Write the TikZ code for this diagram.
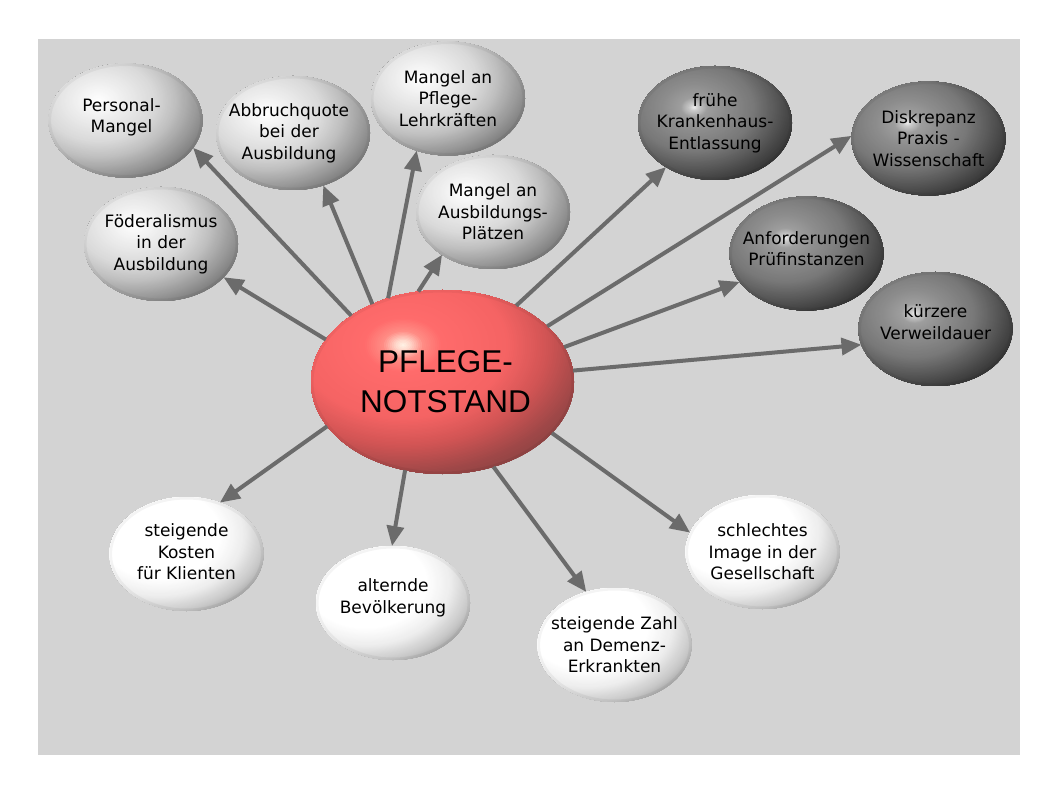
\documentclass[tikz,border=0pt]{standalone}
\usepackage{fontspec}
\setmainfont{DejaVu Sans}
\newfontfamily\centralfont{Liberation Sans}
\usetikzlibrary{arrows.meta,shapes.geometric}

\definecolor{bggray}{RGB}{211,211,211}
\definecolor{arrowgray}{RGB}{107,107,107}

% colour functions of the normalised distance from the highlight
\newcommand\setgrayball[1]{\pgfmathsetmacro\myR{1-0.2*#1-0.008*max(#1-0.5,0)-0.177*max(#1-0.74,0)-0.128*max(#1-1,0)-0.032*max(#1-1.39,0)}\let\myG\myR\let\myB\myR}
\newcommand\setdarkball[1]{\pgfmathsetmacro\myR{0.95-2.5*#1+1.0*max(#1-0.06,0)+1.2*max(#1-0.18,0)+0.075*max(#1-0.38,0)-0.2*max(#1-0.78,0)}\let\myG\myR\let\myB\myR}
\newcommand\setwhiteball[1]{\pgfmathsetmacro\myR{1-0.233*max(#1-0.8,0)-0.284*max(#1-1.1,0)-0.39*max(#1-1.39,0)}\let\myG\myR\let\myB\myR}
\newcommand\setredball[1]{%
  \pgfmathsetmacro\myR{1-0.08*max(#1-0.3,0)-0.387*max(#1-0.8,0)-0.2*max(#1-1.1,0)+0.267*max(#1-1.4,0)}%
  \pgfmathsetmacro\myG{0.97-2*#1-1*max(#1-0.06,0)+2.071*max(#1-0.16,0)+0.869*max(#1-0.3,0)-0.14*max(#1-0.8,0)+0.033*max(#1-1.1,0)+0.067*max(#1-1.4,0)}%
  \pgfmathsetmacro\myB{0.92-2*#1-0.8*max(#1-0.06,0)+2.086*max(#1-0.16,0)+0.654*max(#1-0.3,0)-0.14*max(#1-0.8,0)+0.033*max(#1-1.1,0)+0.067*max(#1-1.4,0)}}

% #1 colour setter, #2 rx, #3 ry, #4 hx, #5 hy, #6 max distance
\newcommand\ballpic[6]{%
  \foreach \i in {0,...,110}{%
    \pgfmathsetmacro\dd{max(#6*(1-\i/110),0.004)}%
    #1{\dd}%
    \definecolor{balltmp}{rgb}{\myR,\myG,\myB}%
    \fill[balltmp] ([xshift=#4*#2pt, yshift=#5*#3pt]path picture bounding box.center) ellipse [x radius=\dd*#2pt, y radius=\dd*#3pt];
  }%
  \draw[black,opacity=0.045,line width=5pt] (path picture bounding box.center) ellipse [x radius=#2pt, y radius=#3pt];
}

\tikzset{
  sat/.style={ellipse, minimum width=154pt, minimum height=114pt, inner sep=0pt, outer sep=0pt},
  lbl/.style={font=\fontsize{17}{21.5}\selectfont, align=center, text=black, inner sep=0pt},
  graynode/.style={sat, path picture={\ballpic{\setgrayball}{77}{57}{-0.35}{0.35}{1.6}}},
  darknode/.style={sat, path picture={\ballpic{\setdarkball}{77}{57}{-0.27}{0.27}{1.5}}},
  whitenode/.style={sat, path picture={\ballpic{\setwhiteball}{77}{57}{-0.35}{0.35}{1.6}}},
  centralnode/.style={ellipse, minimum width=263pt, minimum height=184pt, inner sep=0pt, outer sep=0pt,
    path picture={\ballpic{\setredball}{131.5}{92}{-0.3}{0.4}{1.6}}},
  arr/.style={draw=arrowgray, line width=4pt, -{Triangle[length=20pt,width=17pt]}}
}

\begin{document}
\begin{tikzpicture}[x=1pt,y=-1pt]
\useasboundingbox (0,0) rectangle (1058,794);
\fill[white] (0,0) rectangle (1058,794);
\fill[bggray] (38,39) rectangle (1020,755);

\node[centralnode, label={[font=\centralfont\fontsize{31.5}{40}\selectfont, align=center, inner sep=0pt, xshift=3pt]center:{PFLEGE-\\NOTSTAND}}] (c) at (442.5,382) {};

\node[graynode, label={[lbl,yshift=3pt,xshift=-4pt]center:{Personal-\\Mangel}}] (pm) at (125.5,120.5) {};
\node[graynode, label={[lbl,xshift=-4pt]center:{Abbruchquote\\bei der\\Ausbildung}}] (ab) at (293,133) {};
\node[graynode, label={[lbl]center:{Mangel an\\Pflege-\\Lehrkräften}}] (lk) at (448,98.5) {};
\node[graynode, label={[lbl]center:{Mangel an\\Ausbildungs-\\Plätzen}}] (ap) at (493,212) {};
\node[graynode, label={[lbl]center:{Föderalismus\\in der\\Ausbildung}}] (fo) at (161,244) {};

\node[darknode, label={[lbl]center:{frühe\\Krankenhaus-\\Entlassung}}] (kh) at (715,123) {};
\node[darknode, label={[lbl]center:{Diskrepanz\\Praxis -\\Wissenschaft}}] (dk) at (928.5,138.5) {};
\node[darknode, label={[lbl,yshift=5pt]center:{Anforderungen\\Prüfinstanzen}}] (an) at (806.5,253.5) {};
\node[darknode, label={[lbl,yshift=7pt]center:{kürzere\\Verweildauer}}] (vw) at (935.5,329) {};

\node[whitenode, label={[lbl,yshift=2pt]center:{steigende\\Kosten\\für Klienten}}] (ko) at (186.5,554) {};
\node[whitenode, label={[lbl,yshift=5pt]center:{alternde\\Bevölkerung}}] (al) at (393,603) {};
\node[whitenode, label={[lbl]center:{steigende Zahl\\an Demenz-\\Erkrankten}}] (dz) at (614.5,645) {};
\node[whitenode, label={[lbl]center:{schlechtes\\Image in der\\Gesellschaft}}] (im) at (762.5,552) {};

\draw[arr] (c.144.9) -- (pm.-22.4);
\draw[arr] (c.132.9) -- (ab.-60.6);
\draw[arr] (c.123) -- (lk.-121.9);
\draw[arr] (c.105) -- (ap.-140.4);
\draw[arr] (c.160.1) -- (fo.-28);
\draw[arr] (c.46.5) -- (kh.-138);
\draw[arr] (c.28.6) -- (dk.178.9);
\draw[arr] (c.16.6) -- (an.-157.5);
\draw[arr] (c.5.3) -- (vw.-168);
\draw[arr] (c.-159.9) -- (ko.57.2);
\draw[arr] (c.-113.1) -- (al.91.9);
\draw[arr] (c.-59.6) -- (dz.118.2);
\draw[arr] (c.-25.8) -- (im.165.7);
\end{tikzpicture}
\end{document}
